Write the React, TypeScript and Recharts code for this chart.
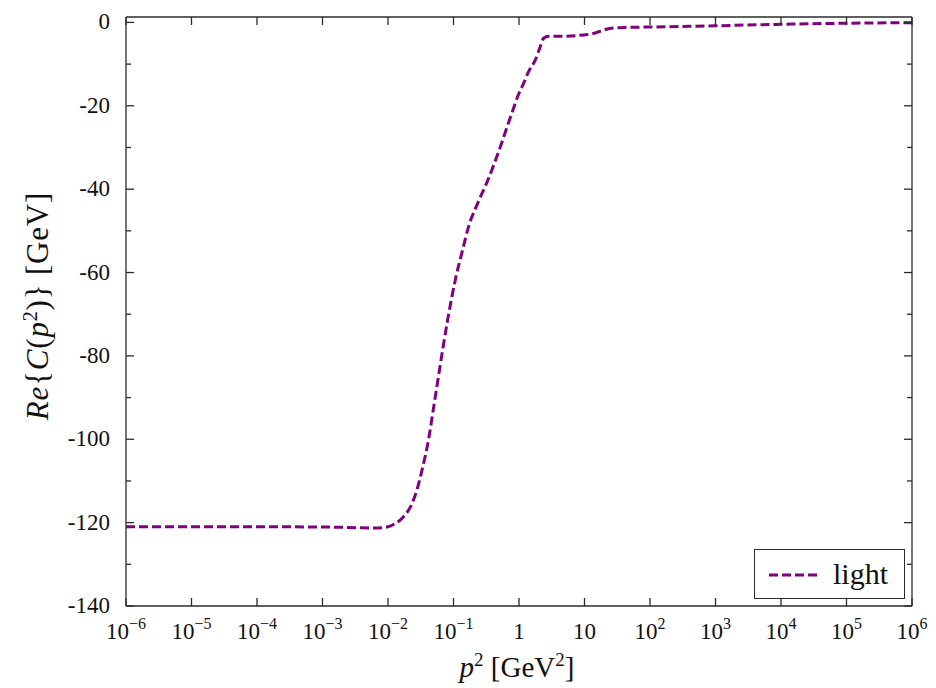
import { LineChart, Line, XAxis, YAxis, Legend } from "recharts";

const logP2 = [
  -6, -5, -4, -3, -2.5, -2.2, -2.0, -1.9, -1.77, -1.63, -1.55, -1.47, -1.38,
  -1.3, -1.23, -1.16, -1.09, -0.97, -0.86, -0.77, -0.62, -0.48, -0.3, -0.13,
  0, 0.07, 0.15, 0.25, 0.32, 0.375, 0.45, 0.7, 0.99, 1.1, 1.17, 1.3, 1.4, 1.6,
  2, 3, 4, 5, 6,
];
const reC = [
  -121.0, -121.0, -121.0, -121.05, -121.2, -121.3, -121.0, -120.3, -118.7,
  -115.3, -111.7, -106.7, -100, -92, -85, -78, -71.4, -61.6, -54.5, -49.0,
  -43.0, -38.0, -30.5, -22.7, -17, -14.6, -11.7, -9.0, -6.0, -3.8, -3.3, -3.3,
  -3.0, -2.8, -2.5, -1.8, -1.4, -1.2, -1.1, -0.8, -0.45, -0.2, -0.05,
];
const xTicks = [-6, -5, -4, -3, -2, -1, 0, 1, 2, 3, 4, 5, 6];
const yTicks = [-140, -130, -120, -110, -100, -90, -80, -70, -60, -50, -40, -30, -20, -10, 0];
const seriesName = "light";

const data = logP2.map((x, i) => ({ x, y: reC[i] }));

const PURPLE = "#800080";
const AXIS = "#2b2b2b";
const FONT = "Liberation Serif, DejaVu Serif, serif";
const txt = { fontFamily: FONT };

function BottomTick(props: any) {
  const { x, y, payload } = props;
  const v = payload.value as number;
  let label;
  if (v === 0) label = <tspan>1</tspan>;
  else if (v === 1) label = <tspan>10</tspan>;
  else
    label = (
      <>
        <tspan>10</tspan>
        <tspan dy={-10} fontSize={16}>
          {v < 0 ? "\u2212" + Math.abs(v) : v}
        </tspan>
      </>
    );
  return (
    <g>
      <line x1={x} y1={y} x2={x} y2={y - 8} stroke={AXIS} strokeWidth={1.3} />
      <text x={x} y={y + 33} textAnchor="middle" fontSize={23} style={txt} fill="#111">
        {label}
      </text>
    </g>
  );
}

function TopTick(props: any) {
  const { x, y } = props;
  return <line x1={x} y1={y} x2={x} y2={y + 8} stroke={AXIS} strokeWidth={1.3} />;
}

function LeftTick(props: any) {
  const { x, y, payload } = props;
  const v = payload.value as number;
  const major = v % 20 === 0;
  return (
    <g>
      <line x1={x} y1={y} x2={x + (major ? 8 : 5)} y2={y} stroke={AXIS} strokeWidth={1.3} />
      {major && (
        <text x={x - 16} y={y + 7} textAnchor="end" fontSize={23} style={txt} fill="#111">
          {v}
        </text>
      )}
    </g>
  );
}

function RightTick(props: any) {
  const { x, y, payload } = props;
  const major = (payload.value as number) % 20 === 0;
  return <line x1={x} y1={y} x2={x - (major ? 8 : 5)} y2={y} stroke={AXIS} strokeWidth={1.3} />;
}

function YLabel() {
  return (
    <text
      transform="translate(48, 306) rotate(-90)"
      textAnchor="middle"
      fontSize={31}
      letterSpacing={0.8}
      style={txt}
      fill="#111"
    >
      <tspan fontStyle="italic">Re</tspan>
      <tspan>{"{"}</tspan>
      <tspan fontStyle="italic">C</tspan>
      <tspan>(</tspan>
      <tspan fontStyle="italic">p</tspan>
      <tspan dy={-11} fontSize={20}>2</tspan>
      <tspan dy={11}>{")} [GeV]"}</tspan>
    </text>
  );
}

function XLabel() {
  return (
    <text x={517} y={677} textAnchor="middle" fontSize={29} style={txt} fill="#111">
      <tspan fontStyle="italic">p</tspan>
      <tspan dy={-11} fontSize={19}>2</tspan>
      <tspan dy={11}>{" [GeV"}</tspan>
      <tspan dy={-11} fontSize={19}>2</tspan>
      <tspan dy={11}>]</tspan>
    </text>
  );
}

function LegendBox() {
  return (
    <div
      style={{
        width: 151,
        height: 50,
        boxSizing: "border-box",
        border: `1.3px solid ${AXIS}`,
        background: "#fff",
        position: "relative",
      }}
    >
      <svg width={151} height={48} style={{ position: "absolute", left: 0, top: 0 }}>
        <line x1={14} y1={25} x2={66} y2={25} stroke={PURPLE} strokeWidth={3} strokeDasharray="9 4" />
        <text x={78} y={34} fontSize={30} style={txt} fill="#111">
          {seriesName}
        </text>
      </svg>
    </div>
  );
}

export default function App() {
  return (
    <div style={{ position: "absolute", left: 0, top: 0, background: "#fff" }}>
      <LineChart
        width={936}
        height={688}
        data={data}
        margin={{ top: 0, right: 0, bottom: 0, left: 0 }}
      >
        <XAxis
          xAxisId="b"
          dataKey="x"
          type="number"
          domain={[-6, 6]}
          ticks={xTicks}
          interval={0}
          height={82}
          tickSize={0}
          tickMargin={0}
          axisLine={{ stroke: AXIS, strokeWidth: 1.3 }}
          tickLine={false}
          tick={BottomTick}
          label={{ content: XLabel }}
        />
        <XAxis
          xAxisId="t"
          orientation="top"
          dataKey="x"
          type="number"
          domain={[-6, 6]}
          ticks={xTicks}
          interval={0}
          height={17}
          tickSize={0}
          tickMargin={0}
          axisLine={{ stroke: AXIS, strokeWidth: 1.3 }}
          tickLine={false}
          tick={TopTick}
        />
        <YAxis
          yAxisId="l"
          type="number"
          domain={[-140, 1.3]}
          ticks={yTicks}
          interval={0}
          allowDataOverflow
          width={126}
          tickSize={0}
          tickMargin={0}
          axisLine={{ stroke: AXIS, strokeWidth: 1.3 }}
          tickLine={false}
          tick={LeftTick}
          label={{ content: YLabel }}
        />
        <YAxis
          yAxisId="r"
          orientation="right"
          type="number"
          domain={[-140, 1.3]}
          ticks={yTicks}
          interval={0}
          allowDataOverflow
          width={24}
          tickSize={0}
          tickMargin={0}
          axisLine={{ stroke: AXIS, strokeWidth: 1.3 }}
          tickLine={false}
          tick={RightTick}
        />
        <Legend
          layout="horizontal"
          verticalAlign="middle"
          align="center"
          content={LegendBox}
          wrapperStyle={{ left: 754, top: 549, width: 151, height: 50 }}
        />
        <Line
          xAxisId="b"
          yAxisId="l"
          type="monotone"
          dataKey="y"
          name={seriesName}
          stroke={PURPLE}
          strokeWidth={3}
          strokeDasharray="9 4"
          dot={false}
          isAnimationActive={false}
        />
      </LineChart>
    </div>
  );
}
